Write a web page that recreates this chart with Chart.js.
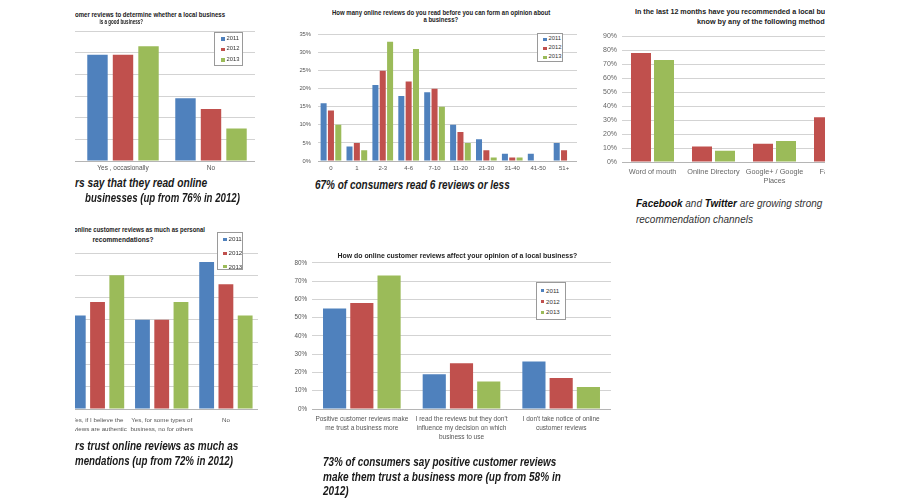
<!DOCTYPE html>
<html><head><meta charset="utf-8">
<script src="https://cdn.jsdelivr.net/npm/chart.js@4.4.1/dist/chart.umd.min.js"></script>
<style>
html,body{margin:0;padding:0;background:#fff;}
#page{position:relative;width:900px;height:500px;overflow:hidden;background:#fff;font-family:"Liberation Sans",Arial,sans-serif;}
.clip{position:absolute;overflow:hidden;}
.clip canvas{position:absolute;}
.t{position:absolute;white-space:nowrap;line-height:1;}
.legend{position:absolute;border:1px solid #9a9a9a;background:#fff;box-sizing:border-box;}
.legend .it{position:absolute;display:flex;align-items:center;white-space:nowrap;line-height:1;color:#333;}
.legend .sw{display:inline-block;margin-right:2px;}
</style></head>
<body><div id="page"></div>
<script>
// ---------- data ----------
const seriesYears = ['2011', '2012', '2013'];

// Chart 1: read online reviews? (left category cropped away)
const readCats = ['', 'Yes , occasionally', 'No'];
const read2011 = [null, 49, 29];
const read2012 = [null, 49, 24];
const read2013 = [null, 53, 15];

// Chart 2: how many reviews read
const countCats = ['0', '1', '2-3', '4-6', '7-10', '11-20', '21-30', '31-40', '41-50', '51+'];
const count2011 = [16, 4, 21, 18, 19, 10, 6, 2, 2, 5];
const count2012 = [14, 5, 25, 22, 20, 8, 3, 1, 0, 3];
const count2013 = [10, 3, 33, 31, 15, 5, 1, 1, 0, 0];

// Chart 3: recommendation methods (right side cropped)
const recCats = ['Word of mouth', 'Online Directory', ['Google+ / Google', 'Places'], 'Facebook'];
const recSeries = ['2012', '2013'];
const recA = [78, 11, 13, 32];
const recB = [73, 8, 15, null];

// Chart 4: trust reviews as much as personal recommendations
const trustCats = [['Yes, if I believe the', 'reviews are authentic'], ['Yes, for some types of', 'business, no for others'], 'No'];
const trust2011 = [21, 20, 33];
const trust2012 = [24, 20, 28];
const trust2013 = [30, 24, 21];

// Chart 5: how reviews affect opinion
const opCats = [['Positive customer reviews make', 'me trust a business more'], ["I read the reviews but they don't", 'influence my decision on which', 'business to use'], ["I don't take notice of online", 'customer reviews']];
const op2011 = [55, 19, 26];
const op2012 = [58, 25, 17];
const op2013 = [73, 15, 12];

// ---------- styling ----------
const BLUE = '#4f81bd', RED = '#c0504d', GREEN = '#9bbb59';
const F = '"Liberation Sans", Arial, sans-serif';
const page = document.getElementById('page');

function box(x, y, w, h) {
  const el = document.createElement('div');
  el.className = 'clip';
  Object.assign(el.style, {left: x + 'px', top: y + 'px', width: w + 'px', height: h + 'px'});
  page.appendChild(el);
  return {el, x, y};
}
const K0 = {el: page, x: 0, y: 0};

function text(K, html, o) {
  const el = document.createElement('div');
  el.className = 't';
  el.innerHTML = html;
  el.style.fontSize = o.size + 'px';
  el.style.fontWeight = o.weight || 'normal';
  el.style.fontStyle = o.italic ? 'italic' : 'normal';
  el.style.color = o.color || '#222';
  el.style.top = (o.y - K.y - o.size / 2) + 'px';
  K.el.appendChild(el);
  const w = el.offsetWidth;
  const s = o.scale || (o.width ? o.width / w : 1);
  if (o.cx !== undefined) {
    el.style.left = (o.cx - K.x - w / 2) + 'px';
    el.style.transformOrigin = 'center';
  } else {
    el.style.left = (o.x - K.x) + 'px';
    el.style.transformOrigin = 'left';
  }
  el.style.transform = 'scaleX(' + s + ')';
  return s;
}

function barChart(K, c) {
  const cv = document.createElement('canvas');
  cv.width = c.w; cv.height = c.h;
  Object.assign(cv.style, {left: (c.left - K.x) + 'px', top: (c.top - K.y) + 'px', width: c.w + 'px', height: c.h + 'px'});
  K.el.appendChild(cv);
  return new Chart(cv, {
    type: 'bar',
    data: {
      labels: c.cats,
      datasets: c.sets.map(s => ({label: s.label, data: s.data, backgroundColor: s.color, borderWidth: 0,
        categoryPercentage: c.cp, barPercentage: c.bp}))
    },
    options: {
      responsive: false, animation: false, devicePixelRatio: 1,
      layout: {padding: {top: c.padTop, left: 0, right: 0, bottom: 0}},
      plugins: {legend: {display: false}, title: {display: false}, tooltip: {enabled: false}},
      scales: {
        x: {
          grid: {display: false, drawTicks: false},
          border: {display: true, color: '#b5b5b5'},
          ticks: {autoSkip: false, maxRotation: 0, minRotation: 0, padding: c.xPad,
            font: {size: c.xSize, family: F, lineHeight: c.xLh}, color: c.tickColor || '#555'},
          afterFit(s) { s.height = c.xH; }
        },
        y: {
          min: 0, max: c.max,
          grid: {color: '#d3d3d3', drawTicks: false},
          border: {display: false},
          ticks: {display: c.showY, stepSize: c.step, padding: c.yPad || 5,
            font: {size: c.ySize || 6, family: F}, color: c.tickColor || '#555',
            callback: v => v + '%'},
          afterFit(s) { s.width = c.yW; }
        }
      }
    }
  });
}

function legend(K, chart, bx, by, bw, bh, rows, o) {
  const b = document.createElement('div');
  b.className = 'legend';
  Object.assign(b.style, {left: (bx - K.x) + 'px', top: (by - K.y) + 'px', width: bw + 'px', height: bh + 'px'});
  chart.data.datasets.forEach((ds, i) => {
    const it = document.createElement('div');
    it.className = 'it';
    it.style.left = o.pad + 'px';
    it.style.top = (rows[i] - by - 1 - o.size / 2) + 'px';
    it.style.height = o.size + 'px';
    it.style.fontSize = o.size + 'px';
    it.innerHTML = '<span class="sw" style="width:' + o.sw + 'px;height:' + o.sw + 'px;background:' + ds.backgroundColor + '"></span>' + ds.label;
    b.appendChild(it);
  });
  K.el.appendChild(b);
}

// ---------- Chart 1 ----------
const K1 = box(75, 0, 200, 176);
const ch1 = barChart(K1, {
  left: -9, top: 20, w: 264, h: 155, yW: 0, padTop: 11, xH: 14, xPad: 3.8, xSize: 6.5, xLh: 1.2,
  max: 60, step: 10, showY: false, cp: 0.87, bp: 0.8, cats: readCats,
  sets: [{label: seriesYears[0], data: read2011, color: BLUE}, {label: seriesYears[1], data: read2012, color: RED}, {label: seriesYears[2], data: read2013, color: GREEN}]
});
text(K1, 'omer reviews to determine whether a local business', {x: 75, y: 15, size: 6.5, weight: 'bold', width: 150});
text(K1, 'is a good business?', {cx: 121, y: 22.7, size: 6.5, weight: 'bold', width: 43});
legend(K1, ch1, 214, 32, 29, 34, [39, 49.3, 60], {pad: 6, size: 5.8, sw: 3.5});

// ---------- Chart 2 ----------
const K2 = box(285, 0, 305, 178);
const ch2 = barChart(K2, {
  left: 292, top: 24, w: 285, h: 151, yW: 26, padTop: 6, xH: 14, xPad: 3.7, xSize: 6, xLh: 1.2,
  max: 35, step: 5, showY: true, yPad: 7, ySize: 5.8, cp: 0.85, bp: 0.82, cats: countCats,
  sets: [{label: seriesYears[0], data: count2011, color: BLUE}, {label: seriesYears[1], data: count2012, color: RED}, {label: seriesYears[2], data: count2013, color: GREEN}]
});
const s2 = text(K2, 'How many online reviews do you read before you can form an opinion about', {cx: 441, y: 13.3, size: 6.5, weight: 'bold', width: 218});
text(K2, 'a business?', {cx: 441, y: 20.3, size: 6.5, weight: 'bold', scale: s2});
legend(K2, ch2, 537, 33, 26, 29, [39.3, 48.3, 57.3], {pad: 5, size: 5.8, sw: 3.5});

// ---------- Chart 3 ----------
const K3 = box(595, 0, 230, 240);
barChart(K3, {
  left: 595, top: 27, w: 271, h: 161, yW: 27, padTop: 8, xH: 26, xPad: 5.5, xSize: 7.3, xLh: 1.2,
  max: 90, step: 10, showY: true, yPad: 5, ySize: 7, tickColor: '#666', cp: 0.754, bp: 0.87, cats: recCats,
  sets: [{label: recSeries[0], data: recA, color: RED}, {label: recSeries[1], data: recB, color: GREEN}]
});
text(K3, 'In the last 12 months have you recommended a local bu', {x: 635, y: 11.7, size: 7.5, weight: 'bold', width: 190});
text(K3, 'know by any of the following method', {x: 697, y: 21.7, size: 7.5, weight: 'bold', width: 128});
const s3 = text(K3, 'recommendation channels', {x: 636, y: 219.3, size: 11.5, italic: true, color: '#333', width: 117});
text(K3, '<b style="color:#111">Facebook</b> and <b style="color:#111">Twitter</b> are growing strong', {x: 636, y: 203.3, size: 11.5, italic: true, color: '#333', scale: s3});

// ---------- Chart 4 ----------
const K4 = box(75, 222, 200, 218);
const ch4 = barChart(K4, {
  left: 62, top: 245, w: 196, h: 194, yW: 0, padTop: 8, xH: 30, xPad: 6.3, xSize: 6.2, xLh: 1.5,
  max: 35, step: 5, showY: false, cp: 0.9, bp: 0.77, cats: trustCats,
  sets: [{label: seriesYears[0], data: trust2011, color: BLUE}, {label: seriesYears[1], data: trust2012, color: RED}, {label: seriesYears[2], data: trust2013, color: GREEN}]
});
text(K4, 'online customer reviews as much as personal', {x: 74, y: 230, size: 6.5, weight: 'bold', width: 131});
text(K4, 'recommendations?', {cx: 123, y: 240, size: 6.5, weight: 'bold', width: 61});
legend(K4, ch4, 217, 232, 26, 38, [239.3, 253.3, 266.7], {pad: 5, size: 6.2, sw: 3.5});

// ---------- Chart 5 ----------
const K5 = box(280, 245, 340, 200);
const ch5 = barChart(K5, {
  left: 285, top: 254, w: 326, h: 191, yW: 27, padTop: 8, xH: 36, xPad: 6, xSize: 6.5, xLh: 1.34,
  max: 80, step: 10, showY: true, yPad: 5, ySize: 6.3, cp: 0.82, bp: 0.85, cats: opCats,
  sets: [{label: seriesYears[0], data: op2011, color: BLUE}, {label: seriesYears[1], data: op2012, color: RED}, {label: seriesYears[2], data: op2013, color: GREEN}]
});
text(K5, 'How do online customer reviews affect your opinion of a local business?', {cx: 457, y: 255, size: 7, weight: 'bold', width: 240});
legend(K5, ch5, 536, 282, 30, 38, [290.7, 301.7, 312.3], {pad: 3.5, size: 6.2, sw: 3.5});

// ---------- captions ----------
const cap = {size: 13, weight: 'bold', italic: true, color: '#1a1a1a'};
text(K0, 'rs say that they read online', Object.assign({}, cap, {x: 75, y: 182.7, width: 132}));
text(K0, 'businesses (up from 76% in 2012)', Object.assign({}, cap, {x: 85, y: 197.7, width: 155}));
text(K0, '67% of consumers read 6 reviews or less', Object.assign({}, cap, {x: 315, y: 184, width: 195}));
text(K0, 'rs trust online reviews as much as', Object.assign({}, cap, {x: 75, y: 445, width: 163}));
text(K0, 'mendations (up from 72% in 2012)', Object.assign({}, cap, {x: 75, y: 460, width: 158}));
text(K0, '73% of consumers say positive customer reviews', Object.assign({}, cap, {x: 323, y: 461.7, width: 233}));
const s5 = text(K0, 'make them trust a business more (up from 58% in', Object.assign({}, cap, {x: 323, y: 476.7, width: 238}));
text(K0, '2012)', Object.assign({}, cap, {x: 323, y: 490.7, scale: s5}));
</script>
</body></html>
